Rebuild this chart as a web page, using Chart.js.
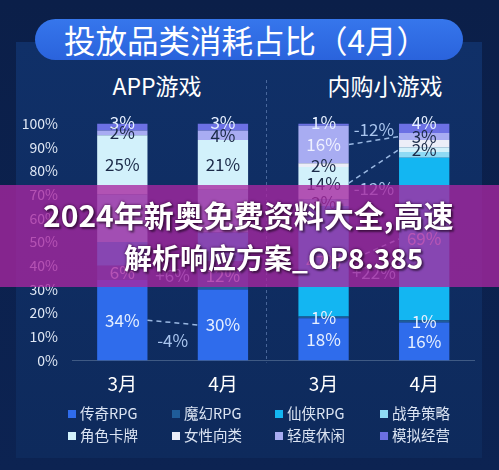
<!DOCTYPE html>
<html><head><meta charset="utf-8">
<script src="https://cdn.jsdelivr.net/npm/chart.js@4.4.0/dist/chart.umd.min.js"></script>
<style>
html,body{margin:0;padding:0;}
body{width:499px;height:470px;overflow:hidden;background:linear-gradient(#0b1f49,#0c2352);position:relative;font-family:"Noto Sans CJK SC","Noto Sans",sans-serif;}
#panel{position:absolute;left:16px;top:42px;width:466px;height:416px;background:linear-gradient(#103068,#0e2a5c);}
#title{position:absolute;left:35px;top:19px;width:428px;height:41px;border-radius:21px;background:linear-gradient(#3676ec,#2a63dc);color:#fff;font-size:31.5px;line-height:41px;padding-left:29px;box-sizing:border-box;white-space:nowrap;}
.sub{position:absolute;top:69px;color:#fff;font-size:23px;line-height:32px;transform:translateX(-50%);white-space:nowrap;}
#c{position:absolute;left:0;top:0;}
#legend{position:absolute;left:0;top:0;width:499px;height:470px;pointer-events:none;}
.li{position:absolute;color:#dbe4f3;font-size:14.5px;line-height:20px;white-space:nowrap;}
.li i{display:inline-block;width:8px;height:8px;margin-right:4px;vertical-align:1px;}
#band{position:absolute;left:0;top:185px;width:499px;height:102px;background:rgba(168,38,160,0.78);}
.bt{position:absolute;color:#fff;font-weight:700;line-height:40px;white-space:nowrap;text-shadow:0 0 3px rgba(50,0,50,0.9),2px 2px 2px rgba(0,0,0,0.45);}
</style></head>
<body>
<div id="panel"></div>
<div id="title">投放品类消耗占比（4月）</div>
<div class="sub" id="s0" style="left:157px">APP游戏</div>
<div class="sub" id="s1" style="left:385px">内购小游戏</div>
<canvas id="c" width="499" height="470"></canvas>
<div id="legend"></div>
<div id="band">
  <div class="bt" style="left:43px;top:9px;font-size:30px">2024年新奥免费资料大全,高速</div>
  <div class="bt" style="left:124px;top:52px;font-size:28px">解析响应方案_OP8.385</div>
</div>
<script>
// ---- data ----
const categories = ['3月','4月','3月','4月'];
const panelTitles = ['APP游戏','内购小游戏'];
const seriesNames = ['传奇RPG','魔幻RPG','仙侠RPG','战争策略','角色卡牌','女性向类','轻度休闲','模拟经营'];
const chuanqiRPG = [34, 30, 17.8, 16];
const mohuanRPG  = [6, 12, 0.8, 1];
const xianxiaRPG = [10, 12, 46.6, 68.6];
const zhanzheng  = [20, 18, 2.8, 2.4];
const jiaose     = [25, 21, 13.6, 2];
const nvxing     = [0, 0, 1.6, 3];
const qingdu     = [2, 4, 15.8, 3];
const moni       = [3, 3, 1.0, 4];
const changeTexts = ['-4%','+6%','-12%','-12%','+22%'];
const changeSeries = [0, 1, 6, 4, 2];
const changePairs = [[0,1],[0,1],[2,3],[2,3],[2,3]];

// ---- styles ----
const colors = ['#2f6cec','#1f5c99','#13b6f2','#8fdaf4','#d2f1fb','#eceef8','#a8acf2','#6c70e4'];
const labelColors = ['#e6efff','#e6efff','#eef6ff','#1b2a48','#1b2a48','#1b2a48','#1b2a48','#e6efff'];
const hiddenLabels = [[2,0],[2,1],[3,0],[3,1],[3,3],[5,3]];
const lightOverrides = [[6,2]];
const changeDy = [18, 2, -11, 22, 22];
const changeLine = [true, false, true, true, true];

const allSeries = [chuanqiRPG, mohuanRPG, xianxiaRPG, zhanzheng, jiaose, nvxing, qingdu, moni];
document.getElementById('s0').textContent = panelTitles[0];
document.getElementById('s1').textContent = panelTitles[1];

// legend
const lg = document.getElementById('legend');
const colX = [68,172,275,380], rowY = [403,425];
seriesNames.forEach((n,i)=>{
  const d = document.createElement('div');
  d.className='li';
  d.style.left = colX[i%4]+'px'; d.style.top = rowY[Math.floor(i/4)]+'px';
  d.innerHTML = '<i style="background:'+colors[i]+'"></i>'+n;
  lg.appendChild(d);
});

const FONT = '"Noto Sans CJK SC","Noto Sans",sans-serif';
Chart.defaults.font.family = FONT;

const has = (arr,a,b)=>arr.some(p=>p[0]===a&&p[1]===b);

const overlay = {
  id:'overlay',
  afterDatasetsDraw(chart){
    const ctx = chart.ctx, ys = chart.scales.y;
    const ca = chart.chartArea;
    // divider
    ctx.save();
    ctx.strokeStyle='rgba(120,150,200,0.55)'; ctx.lineWidth=1; ctx.setLineDash([3,3]);
    ctx.beginPath(); ctx.moveTo(266.5,80); ctx.lineTo(266.5,ca.bottom+2); ctx.stroke();
    ctx.restore();
    // value labels
    ctx.save();
    ctx.font = '17px '+FONT; ctx.textAlign='center'; ctx.textBaseline='middle';
    for(let j=0;j<categories.length;j++){
      let cum=0;
      const total = allSeries.reduce((s,a)=>s+a[j],0);
      allSeries.forEach((arr,i)=>{
        const v=arr[j]; const lo=cum; cum+=v;
        if(v<=0 || has(hiddenLabels,i,j)) return;
        const meta = chart.getDatasetMeta(i).data[j];
        let y = (i===allSeries.length-1) ? ys.getPixelForValue(total)-1 : ys.getPixelForValue(lo+v/2);
        ctx.fillStyle = has(lightOverrides,i,j) ? '#eef0ff' : labelColors[i];
        ctx.fillText(Math.round(v)+'%', meta.x, y);
      });
    }
    // change connectors
    ctx.strokeStyle='#9ab8e2'; ctx.lineWidth=1.5; ctx.setLineDash([5,4]);
    changeTexts.forEach((t,k)=>{
      const s=changeSeries[k], [a,b]=changePairs[k];
      const center=(j)=>{let lo=0;for(let i=0;i<s;i++)lo+=allSeries[i][j];return ys.getPixelForValue(lo+allSeries[s][j]/2);};
      const ma=chart.getDatasetMeta(s).data[a], mb=chart.getDatasetMeta(s).data[b];
      const x1=ma.x+ma.width/2, x2=mb.x-mb.width/2, y1=center(a), y2=center(b);
      if(changeLine[k]){ctx.beginPath();ctx.moveTo(x1,y1);ctx.lineTo(x2,y2);ctx.stroke();}
      ctx.fillStyle='#a9c5ee';
      ctx.fillText(t,(x1+x2)/2,(y1+y2)/2+changeDy[k]);
    });
    ctx.restore();
  }
};

new Chart(document.getElementById('c'),{
  type:'bar',
  data:{labels:categories,datasets:seriesNames.map((n,i)=>({label:n,data:allSeries[i],backgroundColor:colors[i],borderWidth:0,barPercentage:0.5,categoryPercentage:1}))},
  options:{
    responsive:false,animation:false,
    layout:{padding:{left:0,right:24.5,top:123.5,bottom:59.5}},
    plugins:{legend:{display:false},tooltip:{enabled:false}},
    scales:{
      x:{stacked:true,grid:{display:false,drawTicks:false},border:{display:true,color:'#3f5a84',width:1},
         ticks:{color:'#ffffff',font:{size:19},padding:12},afterFit(s){s.height=50;}},
      y:{stacked:true,min:0,max:100,grid:{display:false,drawTicks:false},border:{display:false},
         ticks:{stepSize:10,color:'#e0e8f5',font:{size:14},padding:14,callback:v=>v+'%'},afterFit(s){s.width=72;}}
    }
  },
  plugins:[overlay]
});
</script>
</body></html>
